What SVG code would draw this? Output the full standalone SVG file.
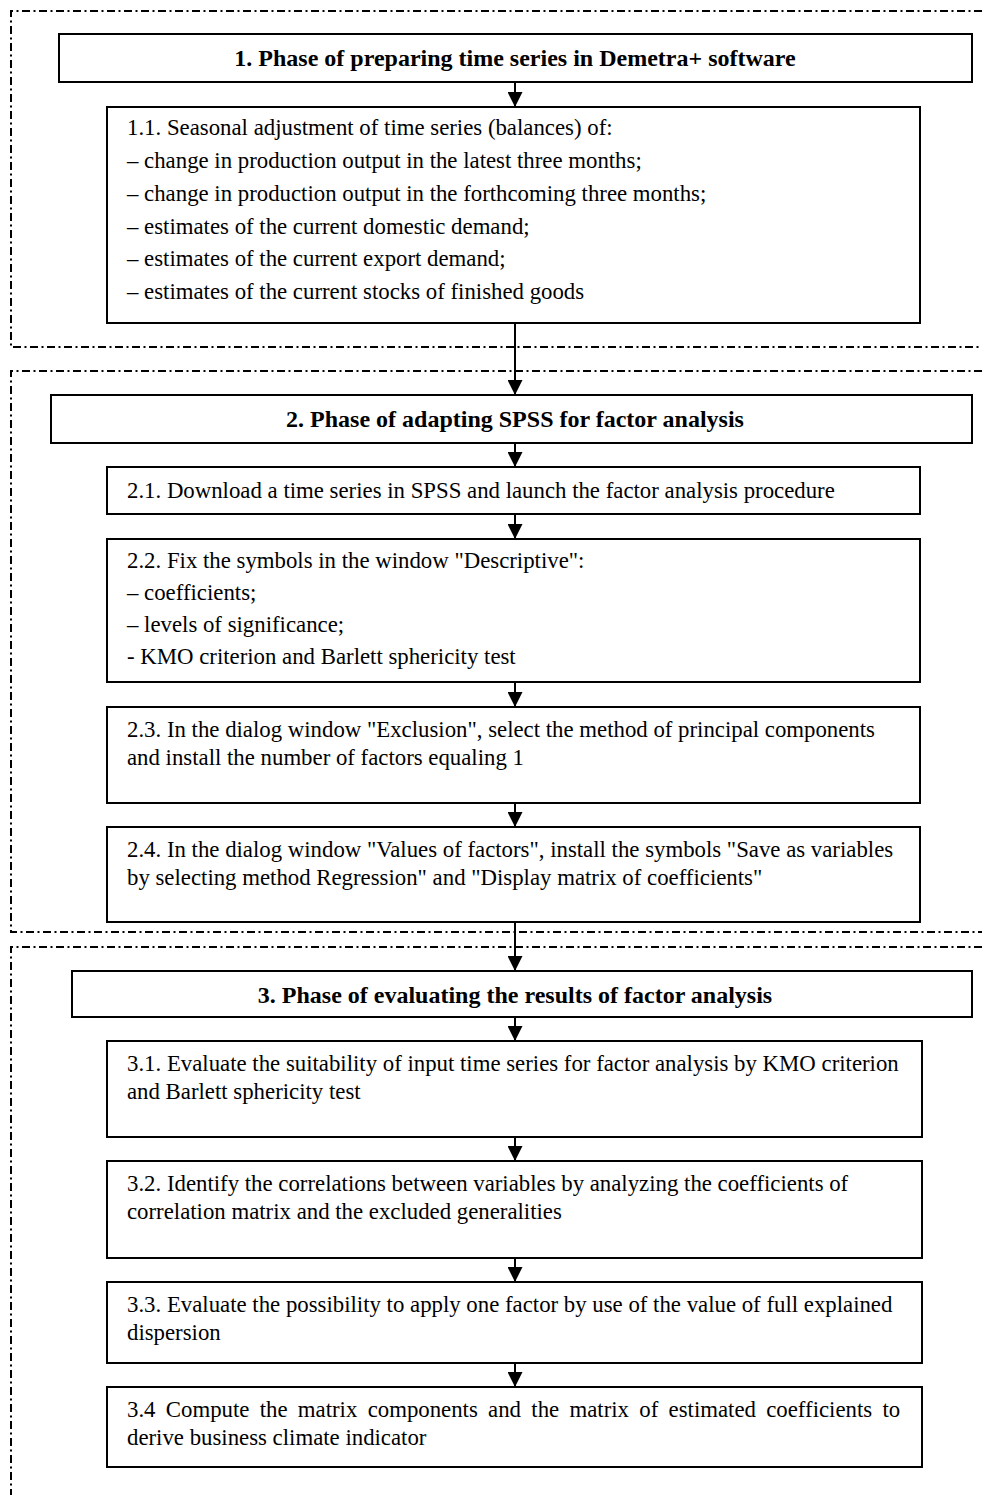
<svg xmlns="http://www.w3.org/2000/svg" width="982" height="1495" viewBox="0 0 982 1495">
  <style>
    .frame { fill: none; stroke: #000; stroke-width: 2; stroke-dasharray: 8 3.5 2 3.5; }
    .box { fill: #fff; stroke: #000; stroke-width: 2; }
    .head { font-family: "Liberation Serif", "Times New Roman", serif; font-size: 24px; font-weight: bold; text-anchor: middle; fill: #000; }
    .body { font-family: "Liberation Serif", "Times New Roman", serif; font-size: 22.8px; fill: #000; }
    .conn { stroke: #000; stroke-width: 2; fill: none; marker-end: url(#arrow); }
  </style>
  <defs>
    <marker id="arrow" viewBox="0 0 16 16" refX="16" refY="8" markerWidth="15" markerHeight="15" markerUnits="userSpaceOnUse" orient="auto">
      <path d="M0,0 L16,8 L0,16 Z" fill="#000"/>
    </marker>
  </defs>

  <!-- phase frames (open on the right) -->
  <g id="frames">
    <path class="frame" d="M982,11 H11 V347 H982"/>
    <path class="frame" d="M982,371 H11 V932 H982"/>
    <path class="frame" d="M982,947 H11 V1495"/>
  </g>

  <!-- connectors -->
  <g id="connectors">
    <line class="conn" x1="515" y1="82" x2="515" y2="107"/>
    <line class="conn" x1="515" y1="323" x2="515" y2="395"/>
    <line class="conn" x1="515" y1="443" x2="515" y2="467"/>
    <line class="conn" x1="515" y1="514" x2="515" y2="539"/>
    <line class="conn" x1="515" y1="682" x2="515" y2="707"/>
    <line class="conn" x1="515" y1="803" x2="515" y2="827"/>
    <line class="conn" x1="515" y1="922" x2="515" y2="971"/>
    <line class="conn" x1="515" y1="1017" x2="515" y2="1041"/>
    <line class="conn" x1="515" y1="1137" x2="515" y2="1161"/>
    <line class="conn" x1="515" y1="1258" x2="515" y2="1282"/>
    <line class="conn" x1="515" y1="1363" x2="515" y2="1387"/>
  </g>

  <g id="phase1">
    <rect class="box" x="59" y="34" width="913" height="48"/>
    <text class="head" x="515" y="66">1. Phase of preparing time series in Demetra+ software</text>
  </g>

  <g id="step1-1">
    <rect class="box" x="107" y="107" width="813" height="216"/>
    <text class="body" x="127" y="135">1.1. Seasonal adjustment of time series (balances) of:</text>
    <text class="body" x="127" y="168">– change in production output in the latest three months;</text>
    <text class="body" x="127" y="201">– change in production output in the forthcoming three months;</text>
    <text class="body" x="127" y="234">– estimates of the current domestic demand;</text>
    <text class="body" x="127" y="266">– estimates of the current export demand;</text>
    <text class="body" x="127" y="299">– estimates of the current stocks of finished goods</text>
  </g>

  <g id="phase2">
    <rect class="box" x="51" y="395" width="921" height="48"/>
    <text class="head" x="515" y="427">2. Phase of adapting SPSS for factor analysis</text>
  </g>

  <g id="step2-1">
    <rect class="box" x="107" y="467" width="813" height="47"/>
    <text class="body" x="127" y="498">2.1. Download a time series in SPSS and launch the factor analysis procedure</text>
  </g>

  <g id="step2-2">
    <rect class="box" x="107" y="539" width="813" height="143"/>
    <text class="body" x="127" y="568">2.2. Fix the symbols in the window "Descriptive":</text>
    <text class="body" x="127" y="600">– coefficients;</text>
    <text class="body" x="127" y="632">– levels of significance;</text>
    <text class="body" x="127" y="664">- KMO criterion and Barlett sphericity test</text>
  </g>

  <g id="step2-3">
    <rect class="box" x="107" y="707" width="813" height="96"/>
    <text class="body" x="127" y="737">2.3. In the dialog window "Exclusion", select the method of principal components</text>
    <text class="body" x="127" y="765">and install the number of factors equaling 1</text>
  </g>

  <g id="step2-4">
    <rect class="box" x="107" y="827" width="813" height="95"/>
    <text class="body" x="127" y="857">2.4. In the dialog window "Values of factors", install the symbols "Save as variables</text>
    <text class="body" x="127" y="885">by selecting method Regression" and "Display matrix of coefficients"</text>
  </g>

  <g id="phase3">
    <rect class="box" x="72" y="971" width="900" height="46"/>
    <text class="head" x="515" y="1003">3. Phase of evaluating the results of factor analysis</text>
  </g>

  <g id="step3-1">
    <rect class="box" x="107" y="1041" width="815" height="96"/>
    <text class="body" x="127" y="1071">3.1. Evaluate the suitability of input time series for factor analysis by KMO criterion</text>
    <text class="body" x="127" y="1099">and Barlett sphericity test</text>
  </g>

  <g id="step3-2">
    <rect class="box" x="107" y="1161" width="815" height="97"/>
    <text class="body" x="127" y="1191">3.2. Identify the correlations between variables by analyzing the coefficients of</text>
    <text class="body" x="127" y="1219">correlation matrix and the excluded generalities</text>
  </g>

  <g id="step3-3">
    <rect class="box" x="107" y="1282" width="815" height="81"/>
    <text class="body" x="127" y="1312">3.3. Evaluate the possibility to apply one factor by use of the value of full explained</text>
    <text class="body" x="127" y="1340">dispersion</text>
  </g>

  <g id="step3-4">
    <rect class="box" x="107" y="1387" width="815" height="80"/>
    <text class="body" x="127" y="1417" word-spacing="4.6">3.4 Compute the matrix components and the matrix of estimated coefficients to</text>
    <text class="body" x="127" y="1445">derive business climate indicator</text>
  </g>
</svg>
